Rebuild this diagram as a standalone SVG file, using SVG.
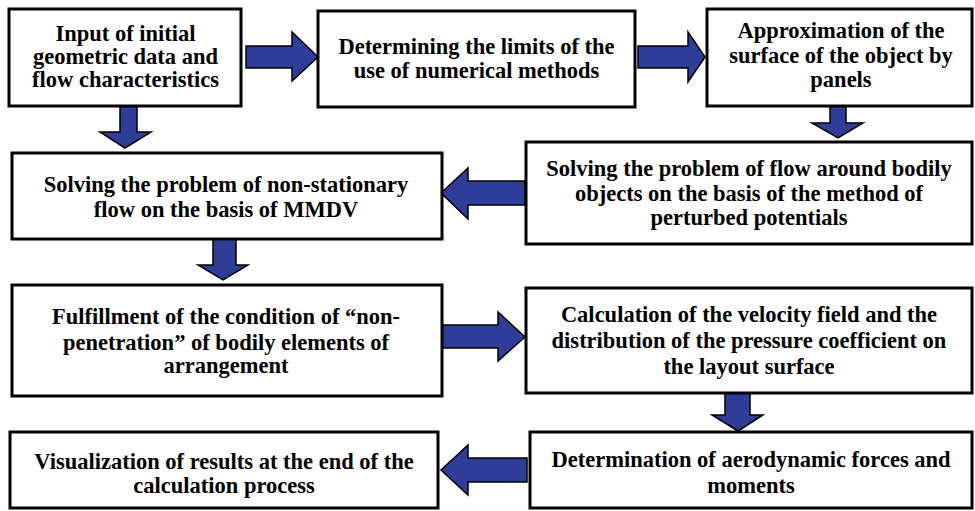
<svg xmlns="http://www.w3.org/2000/svg" width="975" height="511" viewBox="0 0 975 511">
<style>
.box{fill:#fff;stroke:#000;stroke-width:3}
.t{font-family:"Liberation Serif","Times New Roman",serif;font-weight:bold;font-size:22.5px;fill:#000;text-anchor:middle}
.arr{fill:#2f3d99;stroke:#000;stroke-width:1.5;stroke-linejoin:miter}
</style>
<rect width="975" height="511" fill="#fff"/>
<g id="connectors">
<polygon class="arr" points="246,46 292,46 292,32 318,57 292,81 292,68 246,68"/>
<polygon class="arr" points="638,46 688,46 688,32 705,57 688,82 688,68 638,68"/>
<polygon class="arr" points="120,106 137,106 137,132 151,132 125,148 100,132 120,132"/>
<polygon class="arr" points="830,106 846,106 846,123 863,123 838,138 812,123 830,123"/>
<polygon class="arr" points="525,181 468,181 468,168 441,193 468,219 468,205 525,205"/>
<polygon class="arr" points="213,239 236,239 236,265 248,265 223,280 198,265 213,265"/>
<polygon class="arr" points="442,325 498,325 498,312 525,337 498,361 498,348 442,348"/>
<polygon class="arr" points="725,393 750,393 750,415 763,415 738,431 712,415 725,415"/>
<polygon class="arr" points="527,458 468,458 468,445 441,470 468,495 468,482 527,482"/>
</g>
<g id="n1"><rect class="box" x="9" y="9" width="232" height="97"/>
<text class="t" x="125.5" y="41">Input of initial</text>
<text class="t" x="125.5" y="64">geometric data and</text>
<text class="t" x="125.5" y="87">flow characteristics</text></g>
<g id="n2"><rect class="box" x="318" y="11" width="317" height="96"/>
<text class="t" x="476.5" y="54">Determining the limits of the</text>
<text class="t" x="476.5" y="78">use of numerical methods</text></g>
<g id="n3"><rect class="box" x="707" y="9" width="265" height="97"/>
<text class="t" x="841" y="38">Approximation of the</text>
<text class="t" x="841" y="63">surface of the object by</text>
<text class="t" x="841" y="87">panels</text></g>
<g id="n4"><rect class="box" x="526" y="142" width="446" height="102"/>
<text class="t" x="749" y="176">Solving the problem of flow around bodily</text>
<text class="t" x="749" y="201">objects on the basis of the method of</text>
<text class="t" x="749" y="225">perturbed potentials</text></g>
<g id="n5"><rect class="box" x="12" y="153" width="430" height="86"/>
<text class="t" x="226" y="192">Solving the problem of non-stationary</text>
<text class="t" x="226" y="217">flow on the basis of MMDV</text></g>
<g id="n6"><rect class="box" x="12" y="285" width="430" height="111"/>
<text class="t" x="226" y="324">Fulfillment of the condition of “non-</text>
<text class="t" x="226" y="350">penetration” of bodily elements of</text>
<text class="t" x="226" y="373">arrangement</text></g>
<g id="n7"><rect class="box" x="526" y="288" width="446" height="105"/>
<text class="t" x="749" y="322">Calculation of the velocity field and the</text>
<text class="t" x="749" y="348">distribution of the pressure coefficient on</text>
<text class="t" x="749" y="374">the layout surface</text></g>
<g id="n8"><rect class="box" x="530" y="432" width="442" height="76"/>
<text class="t" x="751" y="467">Determination of aerodynamic forces and</text>
<text class="t" x="751" y="493">moments</text></g>
<g id="n9"><rect class="box" x="10" y="432" width="428" height="76"/>
<text class="t" x="224" y="469">Visualization of results at the end of the</text>
<text class="t" x="224" y="493">calculation process</text></g>
</svg>
